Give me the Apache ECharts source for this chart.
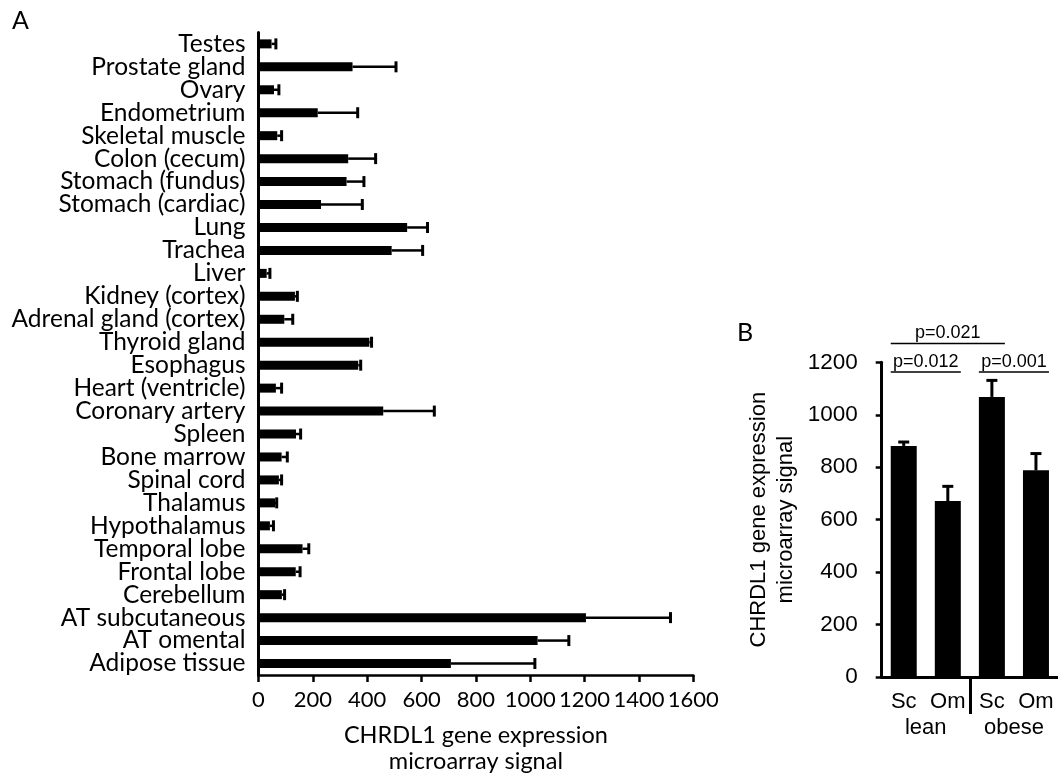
<!DOCTYPE html>
<html><head><meta charset="utf-8">
<script src="https://cdn.jsdelivr.net/npm/echarts@6/dist/echarts.min.js"></script>
<style>html,body{margin:0;padding:0;background:#fff}#c{width:1058px;height:779px}</style>
</head><body><div id="c"></div>
<script>
// Panel A
const tissues = ['Testes','Prostate gland','Ovary','Endometrium','Skeletal muscle','Colon (cecum)','Stomach (fundus)','Stomach (cardiac)','Lung','Trachea','Liver','Kidney (cortex)','Adrenal gland (cortex)','Thyroid gland','Esophagus','Heart (ventricle)','Coronary artery','Spleen','Bone marrow','Spinal cord','Thalamus','Hypothalamus','Temporal lobe','Frontal lobe','Cerebellum','AT subcutaneous','AT omental','Adipose tissue'];
const tissueMean  = [48,346,57,218,69,330,324,230,547,490,30,134,95,408,367,64,459,138,85,75,61,42,162,137,86,1205,1027,708];
const tissueUpper = [64,506,75,365,85,431,388,382,622,604,42,143,126,416,376,85,647,155,106,85,67,55,185,153,96,1516,1142,1017];
const axisNameText = 'CHRDL1 gene expression\nmicroarray signal';

// Panel B
const groups = ['Sc','Om','Sc','Om'];
const cohorts = ['lean','obese'];
const groupMean  = [881,671,1068,788];
const groupUpper = [896,727,1131,852];
const pText  = ['p=0.012','p=0.001','p=0.021'];
const pFrom  = [0,2,0];
const pTo    = [1,3,2];
const pLevel = [1163,1163,1272];

const fA = 'Lato';
const fB = '"Liberation Sans", Arial, sans-serif';
const BAR_B = 26;
const plain = v => String(v);

function hErr(params, api) {
  const i = api.value(1);
  const p0 = api.coord([api.value(0), i]);
  const p1 = api.coord([api.value(2), i]);
  return {type:'group', children:[
    {type:'line', shape:{x1:p0[0], y1:p0[1], x2:p1[0], y2:p1[1]}, style:{stroke:'#000', lineWidth:2.5}},
    {type:'line', shape:{x1:p1[0], y1:p1[1]-5.5, x2:p1[0], y2:p1[1]+5.5}, style:{stroke:'#000', lineWidth:3}}
  ]};
}
function vErr(params, api) {
  const i = api.value(0);
  const p0 = api.coord([i, api.value(1)]);
  const p1 = api.coord([i, api.value(2)]);
  return {type:'group', children:[
    {type:'line', shape:{x1:p0[0], y1:p0[1], x2:p1[0], y2:p1[1]}, style:{stroke:'#000', lineWidth:3}},
    {type:'line', shape:{x1:p1[0]-5.5, y1:p1[1], x2:p1[0]+5.5, y2:p1[1]}, style:{stroke:'#000', lineWidth:3}}
  ]};
}
function pRender(params, api) {
  const k = params.dataIndex;
  const a = api.coord([api.value(0), api.value(2)]);
  const b = api.coord([api.value(1), api.value(2)]);
  const x1 = a[0] - BAR_B/2, x2 = b[0] + BAR_B/2;
  return {type:'group', children:[
    {type:'line', shape:{x1:x1, y1:a[1], x2:x2, y2:a[1]}, style:{stroke:'#000', lineWidth:1.5}},
    {type:'text', x:(x1+x2)/2, y:a[1]-1, style:{text:pText[k], fill:'#000', font:'18px ' + fB, textAlign:'center', textVerticalAlign:'bottom'}}
  ]};
}

const chart = echarts.init(document.getElementById('c'), null, {renderer:'canvas'});
chart.setOption({
  animation:false,
  backgroundColor:'#fff',
  title:[
    {text:'A', left:12, top:8, padding:0, textStyle:{fontFamily:fA, fontSize:25, fontWeight:'normal', color:'#000'}},
    {text:'B', left:737, top:320, padding:0, textStyle:{fontFamily:fA, fontSize:25, fontWeight:'normal', color:'#000'}}
  ],
  grid:[
    {left:258.5, right:364.7, top:32.4, bottom:99.4},
    {left:881.7, right:0, top:362.3, bottom:102}
  ],
  xAxis:[
    {type:'value', gridIndex:0, min:0, max:1600, interval:200, splitLine:{show:false},
     axisLine:{show:true, lineStyle:{color:'#000', width:2.5}},
     axisTick:{show:true, length:7, lineStyle:{color:'#000', width:2.5}},
     axisLabel:{color:'#000', fontFamily:fA, fontSize:22, margin:14, formatter:plain, showMaxLabel:true, showMinLabel:true, hideOverlap:false},
     name:axisNameText, nameLocation:'middle', nameGap:47,
     nameTextStyle:{color:'#000', fontFamily:fA, fontSize:23.5, lineHeight:26}},
    {type:'category', gridIndex:1, data:groups,
     axisLine:{lineStyle:{color:'#000', width:3}}, axisTick:{show:false},
     axisLabel:{color:'#000', fontFamily:fB, fontSize:22, margin:14, interval:0}},
    {type:'category', gridIndex:1, data:cohorts, position:'bottom', offset:26,
     axisLine:{show:false}, axisTick:{show:false},
     axisLabel:{color:'#000', fontFamily:fB, fontSize:22, margin:14, interval:0}},
    {type:'category', gridIndex:1, data:['','',''], position:'bottom',
     axisLine:{show:false}, axisLabel:{show:false},
     axisTick:{show:true, alignWithLabel:true, length:37, interval:function(i){return i===1;}, lineStyle:{color:'#000', width:3}}}
  ],
  yAxis:[
    {type:'category', gridIndex:0, data:tissues, inverse:true,
     axisLine:{lineStyle:{color:'#000', width:3}}, axisTick:{show:false},
     axisLabel:{color:'#000', fontFamily:fA, fontSize:24.5, margin:13, interval:0}},
    {type:'value', gridIndex:1, min:0, max:1200, interval:200, splitLine:{show:false},
     axisLine:{show:true, lineStyle:{color:'#000', width:3}},
     axisTick:{show:true, length:6, lineStyle:{color:'#000', width:2.5}},
     axisLabel:{color:'#000', fontFamily:fB, fontSize:22.5, margin:24, formatter:plain},
     name:axisNameText, nameLocation:'middle', nameGap:82,
     nameTextStyle:{color:'#000', fontFamily:fB, fontSize:22, lineHeight:27}}
  ],
  series:[
    {type:'bar', xAxisIndex:0, yAxisIndex:0, data:tissueMean, barWidth:9, itemStyle:{color:'#000'}, z:3},
    {type:'custom', xAxisIndex:0, yAxisIndex:0, renderItem:hErr, clip:false, z:2,
     encode:{x:[0,2], y:1}, data:tissues.map((t,i)=>[tissueMean[i], i, tissueUpper[i]])},
    {type:'bar', xAxisIndex:1, yAxisIndex:1, data:groupMean, barWidth:BAR_B, itemStyle:{color:'#000'}, z:3},
    {type:'custom', xAxisIndex:1, yAxisIndex:1, renderItem:vErr, clip:false, z:2,
     encode:{x:0, y:[1,2]}, data:groups.map((g,i)=>[i, groupMean[i], groupUpper[i]])},
    {type:'custom', xAxisIndex:1, yAxisIndex:1, renderItem:pRender, clip:false, z:4,
     encode:{x:[0,1], y:2}, data:pText.map((t,i)=>[pFrom[i], pTo[i], pLevel[i]])}
  ]
});
</script></body></html>
